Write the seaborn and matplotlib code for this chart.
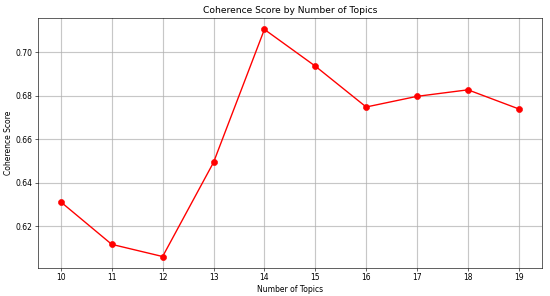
import matplotlib
matplotlib.use("Agg")
import matplotlib.pyplot as plt
import seaborn as sns
import pandas as pd

num_topics = [10, 11, 12, 13, 14, 15, 16, 17, 18, 19]
coherence = [0.6312, 0.6117, 0.6061, 0.6494, 0.7106, 0.6937, 0.6749, 0.6798, 0.6828, 0.6740]

df = pd.DataFrame({"topics": num_topics, "coherence": coherence})

fig = plt.figure(figsize=(10, 5.382), dpi=55)
ax = sns.lineplot(data=df, x="topics", y="coherence", marker="o", color="red",
                  markeredgecolor="red", markersize=8, linewidth=1.8)
ax.set_xticks(num_topics)
ax.grid(True, color="#b0b0b0", alpha=0.7, linewidth=1.5)
ax.set_title("Coherence Score by Number of Topics")
ax.set_xlabel("Number of Topics")
ax.set_ylabel("Coherence Score")
fig.subplots_adjust(left=0.069, right=0.985, top=0.939, bottom=0.095)
fig.savefig("out.png", dpi=55)
